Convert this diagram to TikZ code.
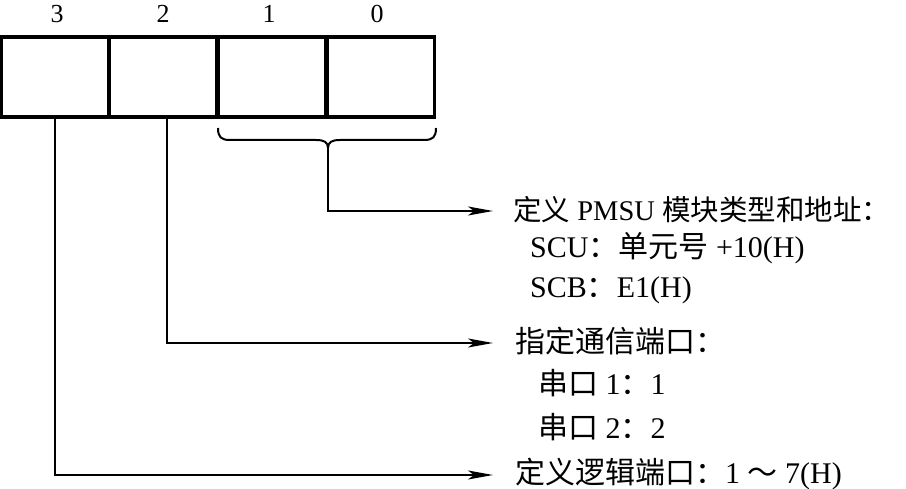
\documentclass[tikz,border=0pt]{standalone}
\usepackage{fontspec}
\setmainfont{Liberation Serif}
\newfontfamily\cjk{Noto Sans CJK SC}
\usetikzlibrary{arrows.meta}
\newcommand\zh[1]{{\cjk #1}}
\begin{document}
\begin{tikzpicture}[x=1pt,y=-1pt,
  bitbox/.style={draw,line width=3.2pt,minimum width=107pt,minimum height=80pt,inner sep=0pt},
  bitlabel/.style={font=\fontsize{26}{30}\selectfont,inner sep=0pt},
  desc/.style={font=\fontsize{30}{34}\selectfont,anchor=west,inner sep=0pt,text height=23pt,text depth=3pt},
  conn/.style={line width=2pt,-{Stealth[length=25pt,width=9pt,inset=6pt]}},
  brace/.style={line width=2pt}]
\useasboundingbox (0,0) rectangle (906,489);
\node[bitbox] (b3) at (55,77) {};
\node[bitbox] (b2) at (163,77) {};
\node[bitbox] (b1) at (272,77) {};
\node[bitbox] (b0) at (381,77) {};
\node[bitlabel] (l3) at (57,14) {3};
\node[bitlabel] (l2) at (163,14) {2};
\node[bitlabel] (l1) at (269,14) {1};
\node[bitlabel] (l0) at (377,14) {0};
\draw[brace] (218,128) .. controls (218,137) and (221,140) .. (230,140) -- (316,140)
  .. controls (324,140) and (328,142) .. (328,148)
  .. controls (328,142) and (332,140) .. (340,140) -- (424,140)
  .. controls (433,140) and (436,137) .. (436,128);
\coordinate (bt) at (328,148);
\node[desc,font=\fontsize{28.5}{33}\selectfont] (t1) at (513,211) {\zh{定义} PMSU \zh{模块类型和地址：}};
\node[desc] (t2) at (530,248) {SCU\zh{：单元号} +10(H)};
\node[desc] (t3) at (530,288) {SCB\zh{：}E1(H)};
\node[desc] (t4) at (515,343) {\zh{指定通信端口：}};
\node[desc] (t5) at (538,385) {\zh{串口} 1\zh{：}1};
\node[desc] (t6) at (538,428) {\zh{串口} 2\zh{：}2};
\node[desc] (t7) at (515,473) {\zh{定义逻辑端口：}1 \zh{～} 7(H)};
\coordinate (e1) at (493,211);
\coordinate (e2) at (493,343);
\coordinate (e3) at (493,475);
\coordinate (s2) at (167,117);
\draw[conn] (bt) |- (e1);
\draw[conn] (s2) |- (e2);
\draw[conn] (b3.south) |- (e3);
\end{tikzpicture}
\end{document}
